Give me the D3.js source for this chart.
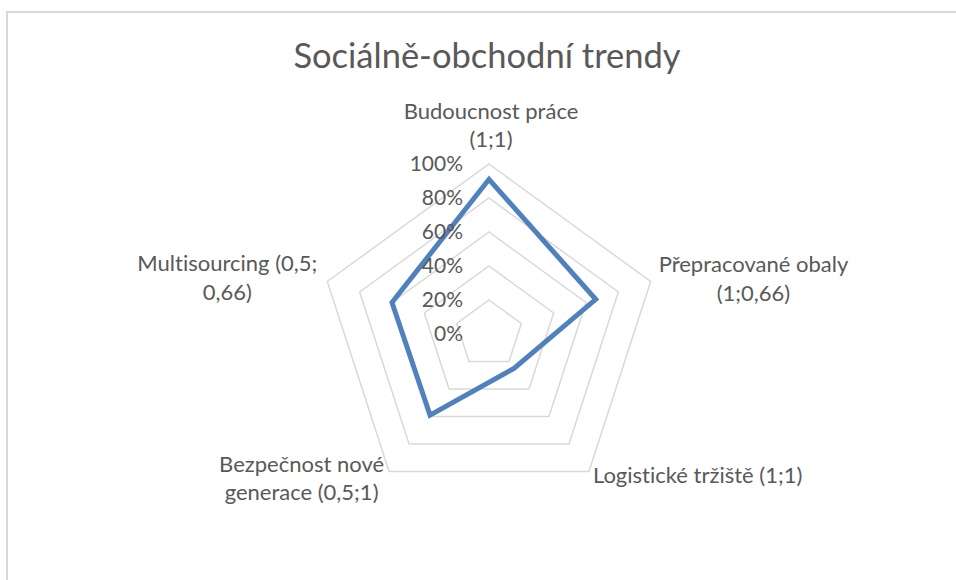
<!DOCTYPE html>
<html>
<head>
<meta charset="utf-8">
<script src="https://cdn.jsdelivr.net/npm/d3@7"></script>
<style>
  body { margin: 0; background: #fff; }
  text { font-family: Lato, "Open Sans", sans-serif; fill: #595959; font-variant-ligatures: none; }
</style>
</head>
<body>
<svg id="chart" width="956" height="580"></svg>
<script>
// chart data
const categories = [
    ["Budoucnost práce", "(1;1)"],
    ["Přepracované obaly", "(1;0,66)"],
    ["Logistické tržiště (1;1)"],
    ["Bezpečnost nové", "generace (0,5;1)"],
    ["Multisourcing (0,5;", "0,66)"]
];
const values = [0.91, 0.66, 0.25, 0.59, 0.60];
const ticks = [0, 0.2, 0.4, 0.6, 0.8, 1];
const chartTitle = "Sociálně-obchodní trendy";

const svg = d3.select("#chart");
const cx = 489, cy = 334, radius = 170;

// frame
svg.append("path")
    .attr("d", "M7,580 V12 H956")
    .attr("fill", "none")
    .attr("stroke", "#d9d9d9")
    .attr("stroke-width", 2);

svg.append("text")
    .attr("x", 487)
    .attr("y", 68)
    .attr("text-anchor", "middle")
    .style("font-size", "34.5px")
    .text(chartTitle);

let r = d3.scaleLinear().domain([0, 1]).range([0, radius]);
let angle = d3.scaleLinear().domain([0, categories.length]).range([0, 2 * Math.PI]);

// point for index i at value v
let pt = (i, v) => [cx + r(v) * Math.sin(angle(i)), cy - r(v) * Math.cos(angle(i))];

let g = svg.append("g");

// grid rings
g.selectAll("polygon.ring")
    .data(ticks)
    .enter()
    .append("polygon")
    .attr("class", "ring")
    .attr("points", t => categories.map((c, i) => pt(i, t).join(",")).join(" "))
    .attr("fill", "none")
    .attr("stroke", "#d9d9d9")
    .attr("stroke-width", 1.5);

// series line
g.append("polygon")
    .attr("points", values.map((v, i) => pt(i, v).join(",")).join(" "))
    .attr("fill", "none")
    .attr("stroke", "#4f81bd")
    .attr("stroke-width", 5)
    .attr("stroke-linejoin", "miter");

// tick labels
g.selectAll("text.tick")
    .data(ticks)
    .enter()
    .append("text")
    .attr("class", "tick")
    .attr("x", cx - 26)
    .attr("y", t => cy - r(t))
    .attr("dy", "0.35em")
    .attr("text-anchor", "end")
    .style("font-size", "21px")
    .text(d3.format(".0%"));

// category labels
const lineH = 28.5;
categories.forEach((lines, i) => {
    let [vx, vy] = pt(i, 1);
    let lab = g.append("text").style("font-size", "22px");
    let tspans = lines.map(l => lab.append("tspan").text(l));
    let w = d3.max(tspans, t => t.node().getComputedTextLength());
    let mid, firstBase;
    if (i === 0) {
        mid = vx + 2;
        firstBase = vy - 17 - lineH * (lines.length - 1);
    } else if (i === 1) {
        mid = vx + 8 + w / 2;
        firstBase = vy - 9;
    } else if (i === 2) {
        mid = vx + 4 + w / 2;
        firstBase = vy + 11;
    } else if (i === 3) {
        mid = vx - 5 - w / 2;
        firstBase = vy;
    } else {
        mid = vx - 10 - w / 2;
        firstBase = vy - 10;
    }
    lab.attr("text-anchor", "middle");
    tspans.forEach((t, k) => t.attr("x", mid).attr("y", firstBase + k * lineH));
});
</script>
</body>
</html>
